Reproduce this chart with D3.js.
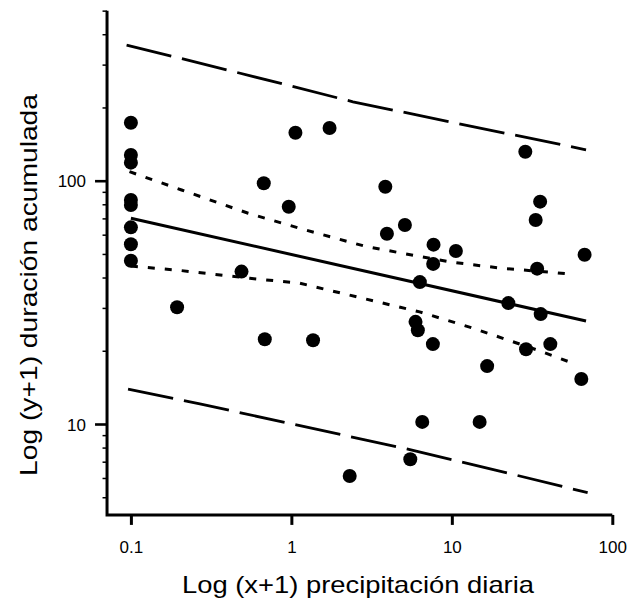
<!DOCTYPE html>
<html>
<head>
<meta charset="utf-8">
<script src="https://cdn.jsdelivr.net/npm/d3@7/dist/d3.min.js"></script>
<style>
  html, body { margin: 0; padding: 0; background: #fff; }
  svg { display: block; }
  text { font-family: "Liberation Sans", Arial, Helvetica, sans-serif; fill: #000; }
</style>
</head>
<body>
<svg id="chart" width="630" height="606"></svg>
<script>
// ---- Data ----
const pointsX = [0.1, 0.1, 0.1, 0.1, 0.1, 0.1, 0.1, 0.1,
  1.06, 1.73, 0.673, 0.963, 0.489, 0.194, 0.683, 1.365,
  28.7, 3.85, 35.5, 33.3, 5.1, 3.94, 7.69, 10.6, 67.2, 7.65, 34.0,
  6.32, 22.5, 35.8, 5.94, 6.14, 7.62, 41.1, 29.0, 16.6, 64.1,
  2.31, 5.51, 6.54, 14.9];
const pointsY = [173, 127.6, 118.6, 83.3, 79.5, 64.3, 54.8, 46.9,
  157.5, 164.7, 97.6, 78.2, 42.3, 30.2, 22.3, 22.1,
  131.6, 94.5, 82.0, 68.9, 65.8, 60.5, 54.6, 51.4, 49.6, 45.5, 43.5,
  38.3, 31.4, 28.3, 26.3, 24.3, 21.3, 21.3, 20.3, 17.3, 15.3,
  6.11, 7.16, 10.2, 10.2];

const fitX = [0.1, 68.6];
const fitY = [70.1, 26.5];

const ciUpperX = [0.098, 0.207, 0.538, 1.128, 2.93, 4.95, 10.1, 20.8, 42.5, 56.6];
const ciUpperY = [108.9, 91.6, 73.5, 63.7, 53.6, 50.3, 46.2, 43.6, 42.0, 41.2];
const ciLowerX = [0.1, 0.207, 0.551, 1.128, 2.93, 6.30, 13.2, 20.8, 34.3, 56.6];
const ciLowerY = [44.6, 42.7, 39.7, 37.9, 32.6, 28.9, 24.9, 22.5, 20.1, 17.8];

const piUpperX = [0.094, 0.152, 1.0, 2.42, 10.4, 23.4, 68.6];
const piUpperY = [361, 334, 245, 211, 173, 155, 134];
const piLowerX = [0.096, 0.269, 0.94, 4.86, 24.0, 70.2];
const piLowerY = [13.9, 12.1, 10.1, 7.99, 6.21, 5.22];

const xTicks = [0.1, 1, 10, 100];
const xTickLabels = ["0.1", "1", "10", "100"];
const yTicks = [10, 100];
const yTickLabels = ["10", "100"];
const yMinorTicks = [5, 6, 7, 8, 9, 20, 30, 40, 50, 60, 70, 80, 90, 200, 300, 400, 500];
const xDomainMin = 0.071, xDomainMax = 100;
const yDomainMin = 4.23, yDomainMax = 500;

const xTitle = "Log (x+1) precipitación diaria";
const yTitle = "Log (y+1) duración acumulada";

// ---- Scales ----
const x = d3.scaleLog().domain([0.1, 100]).range([130.9, 612.3]);
const y = d3.scaleLog().domain([10, 100]).range([424, 180.7]);

const svg = d3.select("#chart");

// ---- Axes ----
const x0 = x(xDomainMin), x1 = x(xDomainMax);
const y0 = y(yDomainMin), y1 = y(yDomainMax);

// Y axis
const yAxis = d3.axisLeft(y).tickValues(yTicks)
  .tickFormat((d, i) => yTickLabels[i]).tickSize(12).tickSizeOuter(0).tickPadding(9);
const gy = svg.append("g").attr("transform", `translate(${x0},0)`).call(yAxis);
gy.select(".domain").remove();
gy.selectAll(".tick line").attr("stroke", "#000").attr("stroke-width", 2.6);
gy.selectAll(".tick text").attr("font-size", 17).attr("dy", "0.36em");
const gyMinor = svg.append("g").attr("transform", `translate(${x0},0)`)
  .call(d3.axisLeft(y).tickValues(yMinorTicks).tickFormat("").tickSize(4.5).tickSizeOuter(0));
gyMinor.select(".domain").remove();
gyMinor.selectAll(".tick line").attr("stroke", "#000").attr("stroke-width", 1.5);

// X axis
const xAxis = d3.axisBottom(x).tickValues(xTicks)
  .tickFormat((d, i) => xTickLabels[i]).tickSize(10).tickSizeOuter(0).tickPadding(16);
const gx = svg.append("g").attr("transform", `translate(0,${y0})`).call(xAxis);
gx.select(".domain").remove();
gx.selectAll(".tick line").attr("stroke", "#000").attr("stroke-width", 3);
gx.selectAll(".tick text").attr("font-size", 17);

// Axis lines
svg.append("path")
  .attr("d", `M${x0},${y1}V${y0}H${x1}`)
  .attr("fill", "none").attr("stroke", "#000").attr("stroke-width", 3)
  .attr("stroke-linejoin", "miter");

// ---- Lines ----
const line = d3.line().x(d => x(d[0])).y(d => y(d[1]));
function drawLine(xs, ys, dash, w) {
  svg.append("path")
    .datum(xs.map((v, i) => [v, ys[i]]))
    .attr("d", line)
    .attr("fill", "none")
    .attr("stroke", "#000")
    .attr("stroke-width", w)
    .attr("stroke-dasharray", dash);
}
drawLine(piUpperX, piUpperY, "46,11", 2.8);
drawLine(piLowerX, piLowerY, "46,11", 2.8);
drawLine(ciUpperX, ciUpperY, "7,10", 3);
drawLine(ciLowerX, ciLowerY, "7,10", 3);
drawLine(fitX, fitY, null, 3);

// ---- Points ----
svg.append("g").selectAll("circle")
  .data(pointsX.map((v, i) => [v, pointsY[i]]))
  .join("circle")
  .attr("cx", d => x(d[0]))
  .attr("cy", d => y(d[1]))
  .attr("r", 7)
  .attr("fill", "#000");

// ---- Titles ----
svg.append("text")
  .attr("x", 358).attr("y", 593)
  .attr("text-anchor", "middle")
  .attr("font-size", 24)
  .attr("textLength", 352).attr("lengthAdjust", "spacingAndGlyphs")
  .text(xTitle);

svg.append("text")
  .attr("transform", "translate(37,285) rotate(-90)")
  .attr("text-anchor", "middle")
  .attr("font-size", 24)
  .attr("textLength", 382).attr("lengthAdjust", "spacingAndGlyphs")
  .text(yTitle);
</script>
</body>
</html>
